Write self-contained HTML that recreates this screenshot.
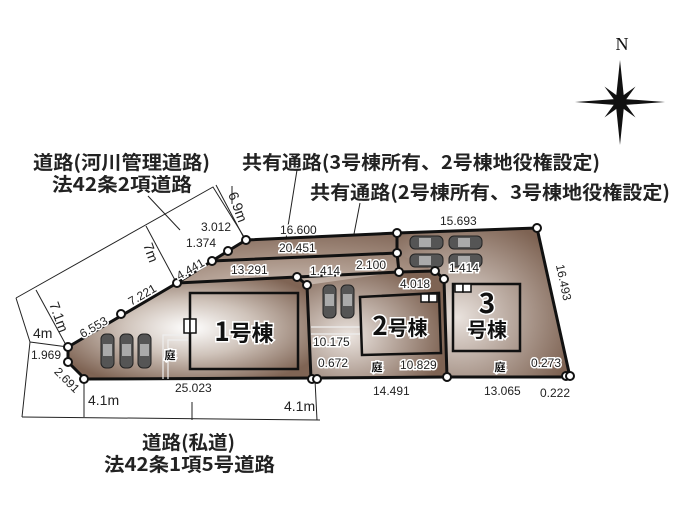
<!DOCTYPE html>
<html><head><meta charset="utf-8"><style>
html,body{margin:0;padding:0;background:#fff;}
svg{display:block;font-family:"Liberation Sans","Noto Sans CJK JP",sans-serif;}
.t{font-size:12px;fill:#222;}
.w{font-size:12px;fill:#222;stroke:#fff;stroke-width:3px;paint-order:stroke;}
.big{font-size:19px;font-weight:bold;fill:#222;font-family:"Noto Sans CJK JP","Liberation Sans",sans-serif;}
.h{font-weight:bold;fill:#111;stroke:#fff;stroke-width:3px;paint-order:stroke;font-family:"Noto Sans CJK JP",sans-serif;}
</style></head><body>
<svg width="691" height="522" viewBox="0 0 691 522" xmlns="http://www.w3.org/2000/svg">
<defs>
<radialGradient id="g" cx="0.45" cy="0.55" r="0.6">
<stop offset="0" stop-color="#e6ddd7"/><stop offset="0.6" stop-color="#a58f81"/><stop offset="1" stop-color="#7a5f50"/>
</radialGradient>
<radialGradient id="g1" cx="0.5" cy="0.5" r="0.6">
<stop offset="0" stop-color="#ffffff"/><stop offset="0.45" stop-color="#cfc3ba"/><stop offset="1" stop-color="#7f6454"/>
</radialGradient>
<radialGradient id="g2" cx="0.3" cy="0.6" r="0.7">
<stop offset="0" stop-color="#ebe4df"/><stop offset="1" stop-color="#7e6353"/>
</radialGradient>
<radialGradient id="g3" cx="0.35" cy="0.6" r="0.7">
<stop offset="0" stop-color="#e9e2dd"/><stop offset="1" stop-color="#7e6353"/>
</radialGradient>
</defs>

<g fill="none" stroke="#222" stroke-width="1">
<polyline points="16,298 213,187 246,240"/>
<line x1="16" y1="298" x2="30" y2="342"/>
<line x1="30" y1="342" x2="68" y2="347"/>
<line x1="30" y1="342" x2="22" y2="417"/>
<line x1="22" y1="417" x2="320" y2="420"/>
<line x1="84" y1="379" x2="84" y2="417"/>
<line x1="315" y1="380" x2="317" y2="420"/>
<line x1="36" y1="290" x2="66" y2="345"/>
<line x1="146" y1="226" x2="176" y2="282"/>
<line x1="216" y1="185" x2="244" y2="238"/>
<line x1="148" y1="196" x2="180" y2="230"/>
<line x1="232" y1="202" x2="232" y2="186"/>
<line x1="297" y1="170" x2="285" y2="245"/>
<line x1="360" y1="203" x2="348" y2="265"/>
<line x1="192" y1="402" x2="192" y2="420"/>
</g>

<polygon points="68,347 177,283 212,261 228,251 246,240 397,233 537,228 570,377 447,377 316,378 85,379 68,362" fill="url(#g)"/>
<polygon points="68,347 177,283 297,277 307,285 311,379 85,379 68,362" fill="url(#g1)"/>
<polygon points="307,285 399,272 435,271 444,279 447,377 311,379" fill="url(#g2)"/>
<polygon points="444,279 435,271 397,253 397,233 537,228 570,377 447,377" fill="url(#g3)"/>

<g fill="none" stroke="#111" stroke-width="3" stroke-linejoin="round">
<polygon points="68,347 177,283 212,261 228,251 246,240 397,233 537,228 570,377 447,377 316,378 85,379 68,362"/>
<polyline points="177,283 297,277 307,285 311,379"/>
<polyline points="212,261 397,253 399,272 435,271 444,279 447,377"/>
<polyline points="297,277 399,272"/>
<line x1="397" y1="233" x2="397" y2="253"/>
</g>
<g stroke="#eee" stroke-width="1.2" fill="none">
<polyline points="163,379 163,335 188,335"/>
<polyline points="168,379 168,340 188,340"/>
<line x1="311" y1="327" x2="360" y2="327"/>
<line x1="311" y1="334" x2="360" y2="334"/>
</g>

<g stroke="#111" stroke-width="2.5" fill="none">
<rect x="190" y="293" width="108" height="76"/>
<polygon points="360,297 439,293 441,353 362,355"/>
<rect x="453" y="284" width="67" height="67"/>
</g>
<g fill="#fff" stroke="#111" stroke-width="1.5">
<rect x="184" y="319" width="6" height="14"/><rect x="190" y="319" width="6" height="14"/>
<rect x="421" y="294" width="8" height="8"/><rect x="429" y="294" width="8" height="8"/>
<rect x="455" y="284" width="8" height="8"/><rect x="463" y="284" width="8" height="8"/>
</g>

<g fill="#555" stroke="#222" stroke-width="1">
<rect x="101" y="334" width="13" height="34" rx="5"/>
<rect x="120" y="334" width="13" height="34" rx="5"/>
<rect x="138" y="334" width="13" height="34" rx="5"/>
<rect x="323" y="285" width="13" height="33" rx="5"/>
<rect x="341" y="285" width="13" height="33" rx="5"/>
<rect x="410" y="236" width="33" height="13" rx="5"/>
<rect x="449" y="236" width="33" height="13" rx="5"/>
<rect x="410" y="254" width="33" height="13" rx="5"/>
<rect x="449" y="254" width="33" height="13" rx="5"/>
</g>
<g fill="#aaa">
<rect x="103" y="344" width="9" height="12"/><rect x="122" y="344" width="9" height="12"/><rect x="140" y="344" width="9" height="12"/>
<rect x="325" y="294" width="9" height="12"/><rect x="343" y="294" width="9" height="12"/>
<rect x="419" y="238" width="12" height="9"/><rect x="458" y="238" width="12" height="9"/>
<rect x="419" y="256" width="12" height="9"/><rect x="458" y="256" width="12" height="9"/>
</g>

<g fill="#fff" stroke="#111" stroke-width="2">
<circle cx="68" cy="347" r="4"/><circle cx="68" cy="362" r="4"/><circle cx="84" cy="379" r="4"/>
<circle cx="121" cy="314" r="4"/><circle cx="177" cy="283" r="4"/><circle cx="212" cy="261" r="4"/>
<circle cx="228" cy="251" r="4"/><circle cx="246" cy="240" r="4"/><circle cx="297" cy="277" r="4"/>
<circle cx="307" cy="285" r="4"/><circle cx="312" cy="379" r="4"/><circle cx="317" cy="379" r="4"/>
<circle cx="397" cy="233" r="4"/><circle cx="397" cy="253" r="4"/><circle cx="399" cy="272" r="4"/>
<circle cx="435" cy="271" r="4"/><circle cx="444" cy="279" r="4"/><circle cx="447" cy="377" r="4"/>
<circle cx="537" cy="228" r="4"/><circle cx="566" cy="376" r="4"/><circle cx="570" cy="376" r="4"/>
</g>

<text x="244" y="341" class="h" font-size="22" text-anchor="middle"><tspan font-size="26">1</tspan>号棟</text>
<text x="400" y="335" class="h" font-size="20" text-anchor="middle"><tspan font-size="26">2</tspan>号棟</text>
<text x="487" y="313" class="h" font-size="28" text-anchor="middle">3</text>
<text x="487" y="337" class="h" font-size="20" text-anchor="middle">号棟</text>
<text x="170" y="359" class="h" font-size="11" text-anchor="middle">庭</text>
<text x="377" y="371" class="h" font-size="11" text-anchor="middle">庭</text>
<text x="500" y="371" class="h" font-size="11" text-anchor="middle">庭</text>

<text x="201" y="231" class="w">3.012</text>
<text x="186" y="247" class="w">1.374</text>
<text x="175" y="276" class="w" transform="rotate(-30 185 270)">4.441</text>
<text x="127" y="300" class="w" transform="rotate(-30 140 295)">7.221</text>
<text x="78" y="333" class="w" transform="rotate(-30 90 327)">6.553</text>
<text x="31" y="359" class="w">1.969</text>
<text x="52" y="380" class="w" transform="rotate(45 62 378)">2.691</text>
<text x="175" y="392" class="t">25.023</text>
<text x="313" y="346" class="w">10.175</text>
<text x="318" y="367" class="w">0.672</text>
<text x="373" y="395" class="t">14.491</text>
<text x="400" y="369" class="w">10.829</text>
<text x="484" y="395" class="t">13.065</text>
<text x="531" y="367" class="w">0.273</text>
<text x="540" y="397" class="t">0.222</text>
<text x="548" y="275" class="t" transform="rotate(78 558 275)">16.493</text>
<text x="231" y="274" class="w">13.291</text>
<text x="280" y="234" class="w">16.600</text>
<text x="279" y="252" class="w">20.451</text>
<text x="310" y="275" class="w">1.414</text>
<text x="356" y="269" class="w">2.100</text>
<text x="400" y="288" class="w">4.018</text>
<text x="449" y="272" class="w">1.414</text>
<text x="440" y="225" class="t">15.693</text>

<g font-size="14" fill="#222">
<text x="49" y="304" transform="rotate(70 49 304)">7.1m</text>
<text x="143" y="245" transform="rotate(70 143 245)">7m</text>
<text x="228" y="194" transform="rotate(70 228 194)">6.9m</text>
<text x="33" y="338">4m</text>
<text x="88" y="405">4.1m</text>
<text x="284" y="411">4.1m</text>
</g>

<text x="33" y="169" class="big" textLength="177" lengthAdjust="spacingAndGlyphs">道路(河川管理道路)</text>
<text x="52" y="191" class="big" textLength="140" lengthAdjust="spacingAndGlyphs">法42条2項道路</text>
<text x="242" y="169" class="big" textLength="358" lengthAdjust="spacingAndGlyphs">共有通路(3号棟所有、2号棟地役権設定)</text>
<text x="310" y="199" class="big" textLength="360" lengthAdjust="spacingAndGlyphs">共有通路(2号棟所有、3号棟地役権設定)</text>
<text x="142" y="449" class="big" textLength="93" lengthAdjust="spacingAndGlyphs">道路(私道)</text>
<text x="104" y="471" class="big" textLength="171" lengthAdjust="spacingAndGlyphs">法42条1項5号道路</text>

<text x="622" y="50" font-family="Liberation Serif,serif" font-size="18" text-anchor="middle" fill="#111">N</text>
<g fill="#111" transform="translate(620,102)">
<polygon points="0,-42 4,-4 0,0 -4,-4"/>
<polygon points="0,43 4,4 0,0 -4,4"/>
<polygon points="-45,0 -4,-3 0,0 -4,3"/>
<polygon points="45,0 4,-3 0,0 4,3"/>
<g transform="rotate(45)">
<polygon points="0,-22 3,-3 0,0 -3,-3"/><polygon points="0,22 3,3 0,0 -3,3"/>
<polygon points="-22,0 -3,-3 0,0 -3,3"/><polygon points="22,0 3,-3 0,0 3,3"/>
</g>
</g>
</svg>
</body></html>
